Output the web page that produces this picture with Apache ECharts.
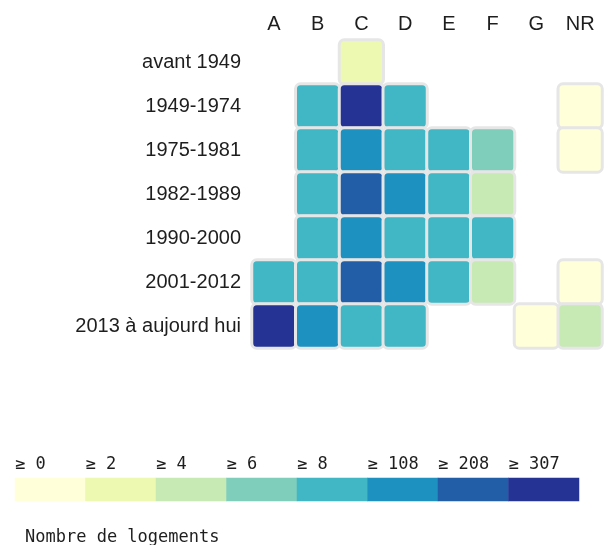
<!DOCTYPE html>
<html>
<head>
<meta charset="utf-8">
<script src="https://cdn.jsdelivr.net/npm/echarts@6/dist/echarts.min.js"></script>
<style>
  html, body { margin: 0; padding: 0; background: #fff; }
  #chart { width: 605px; height: 545px; }
</style>
</head>
<body>
<div id="chart"></div>
<script>
// classes DPE et periodes de construction
var classes = ['A', 'B', 'C', 'D', 'E', 'F', 'G', 'NR'];
var periodes = ['avant 1949', '1949-1974', '1975-1981', '1982-1989', '1990-2000', '2001-2012', '2013 à aujourd hui'];

// nombre de logements, une ligne par periode (null = pas de case)
var logements = [
    [null, null, 3, null, null, null, null, null],
    [null, 45, 340, 60, null, null, null, 1],
    [null, 70, 150, 55, 40, 7, null, 1],
    [null, 80, 250, 170, 50, 5, null, null],
    [null, 75, 160, 65, 45, 30, null, null],
    [30, 60, 240, 130, 40, 5, null, 1],
    [390, 140, 70, 50, null, null, 1, 5]
];

// seuils de la legende
var seuils = [0, 2, 4, 6, 8, 108, 208, 307];
var couleurs = ['#ffffd9', '#edf8b1', '#c7e9b4', '#7fcdbb', '#41b6c4', '#1d91c0', '#225ea8', '#253494'];

var chart = echarts.init(document.getElementById('chart'));

var data = [];
logements.forEach(function (row, y) {
    row.forEach(function (v, x) {
        if (v !== null) data.push([x, y, v]);
    });
});

var pieces = seuils.map(function (s, i) {
    var p = { gte: s, color: couleurs[i] };
    if (i < seuils.length - 1) p.lt = seuils[i + 1];
    return p;
});

var legendData = seuils.map(function (s, i) { return [i, 0, s]; });

var textColor = '#1e1e1e';
var mono = '"DejaVu Sans Mono", monospace';

chart.setOption({
    animation: false,
    title: {
        text: 'Nombre de logements',
        left: 25,
        top: 529,
        padding: 0,
        textStyle: { fontFamily: mono, fontSize: 17, fontWeight: 'normal', color: textColor }
    },
    visualMap: {
        show: false,
        type: 'piecewise',
        seriesIndex: [0, 1],
        pieces: pieces
    },
    grid: [
        { left: 252, right: 3, top: 40, height: 308 },
        { left: 15, width: 564, top: 478, height: 23 }
    ],
    xAxis: [
        {
            type: 'category',
            gridIndex: 0,
            data: classes,
            position: 'top',
            axisLine: { show: false },
            axisTick: { show: false },
            splitLine: { show: false },
            axisLabel: { fontSize: 20, color: textColor, margin: 6, fontFamily: 'Liberation Sans, Arial' }
        },
        {
            type: 'category',
            gridIndex: 1,
            data: seuils,
            show: false
        },
        {
            type: 'value',
            gridIndex: 1,
            min: 0,
            max: 8,
            interval: 1,
            position: 'top',
            axisLine: { show: false },
            axisTick: { show: false },
            splitLine: { show: false },
            axisLabel: {
                fontSize: 17,
                fontFamily: mono,
                color: textColor,
                align: 'left',
                margin: 5,
                formatter: function (v) {
                    return v < seuils.length ? '≥ ' + seuils[v] : '';
                }
            }
        }
    ],
    yAxis: [
        {
            type: 'category',
            gridIndex: 0,
            data: periodes,
            inverse: true,
            axisLine: { show: false },
            axisTick: { show: false },
            splitLine: { show: false },
            axisLabel: { fontSize: 20, color: textColor, margin: 11, fontFamily: 'Liberation Sans, Arial' }
        },
        {
            type: 'category',
            gridIndex: 1,
            data: [''],
            show: false
        }
    ],
    series: [
        {
            type: 'heatmap',
            xAxisIndex: 0,
            yAxisIndex: 0,
            data: data,
            itemStyle: { borderColor: '#e6e6e6', borderWidth: 3, borderRadius: 5 },
            emphasis: { disabled: true }
        },
        {
            type: 'heatmap',
            xAxisIndex: 1,
            yAxisIndex: 1,
            data: legendData,
            itemStyle: { borderWidth: 0 },
            emphasis: { disabled: true }
        }
    ]
});
</script>
</body>
</html>
